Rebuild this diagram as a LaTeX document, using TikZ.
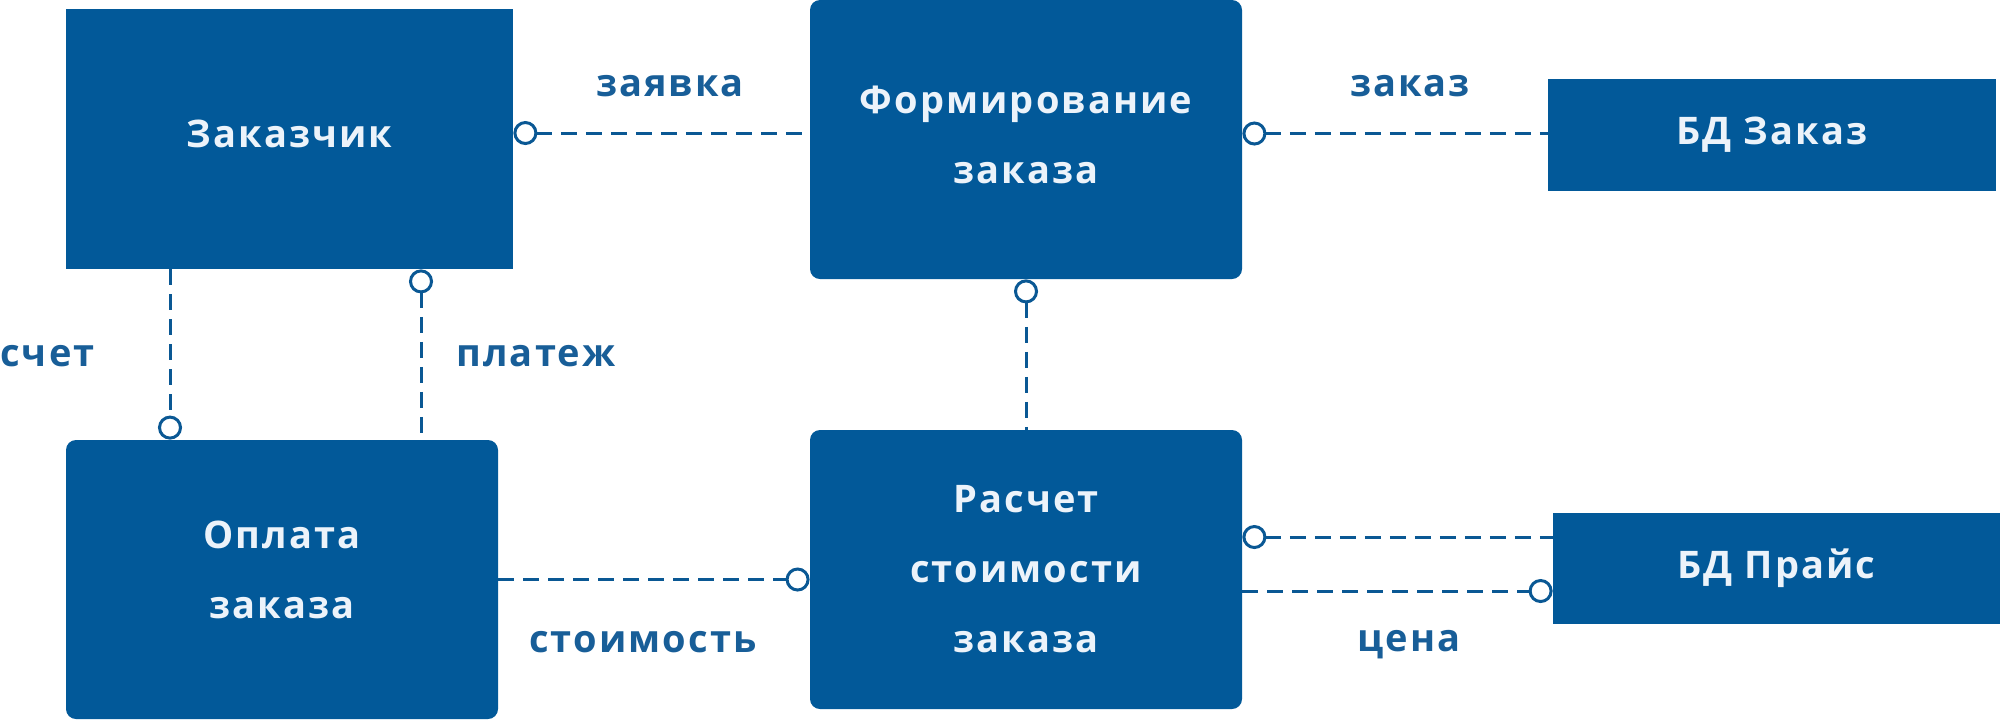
\documentclass[tikz,border=0pt]{standalone}
\usepackage{fontspec}
\newfontfamily\diafont{Open Sans}[LetterSpace=5.5]
\usetikzlibrary{arrows.meta}
\definecolor{boxblue}{RGB}{2,89,153}
\definecolor{linkblue}{RGB}{10,88,148}
\definecolor{labelblue}{RGB}{24,94,152}
\definecolor{boxtext}{RGB}{236,243,250}

\begin{document}
\begin{tikzpicture}[
		x=0.5pt, y=-0.5pt,
		ring/.tip={Circle[open, length=12pt, width=12pt]},
		box/.style={fill=boxblue, text=boxtext, inner sep=0pt, align=center,
			font=\diafont\bfseries\fontsize{19}{35}\selectfont},
		entity/.style={box, minimum width=223.5pt},
		proc/.style={box, rounded corners=5pt, minimum width=216pt, minimum height=139.5pt},
		link/.style={draw=linkblue, line width=1.5pt, dash pattern=on 8pt off 4.5pt},
		lbl/.style={text=labelblue, inner sep=0pt, anchor=base,
			font=\diafont\bfseries\fontsize{19}{23}\selectfont}
		]
		\useasboundingbox (0,0) rectangle (2000,720);
		
		% --------------------------------------------------
		% Boxes
		% --------------------------------------------------
		\node[entity, minimum height=130pt, text depth=5pt] (klient) at (289.5,139) {Заказчик};
		\node[proc, text depth=5pt] (form) at (1026,139.5) {Формирование\\заказа};
		\node[entity, minimum width=224pt, minimum height=56pt] (bdzakaz) at (1772,135) {БД Заказ};
		
		\node[proc, text depth=10pt] (oplata) at (282,579.5) {Оплата\\заказа};
		\node[proc] (raschet) at (1026,569.5) {Расчет\\стоимости\\заказа};
		\node[entity, minimum height=55.5pt] (bdprice) at (1776.5,568.5) {БД Прайс};
		
		% --------------------------------------------------
		% Links
		% --------------------------------------------------
		\draw[link, {ring}-] ([yshift=3pt]klient.east) -- ([yshift=3pt]klient.east -| form.west);
		\draw[link, {ring}-] ([yshift=3pt]form.east) -- ([yshift=3pt]form.east -| bdzakaz.west);
		\draw[link, {ring}-] (form.south) -- (raschet.north);
		
		\draw[link, -{ring}] ([xshift=-59.75pt]klient.south) -- ([xshift=-59.75pt]klient.south |- oplata.north);
		\draw[link, {ring}-] ([xshift=65.75pt]klient.south) -- ([xshift=65.75pt]klient.south |- oplata.north);
		
		\draw[link, -{ring}] (oplata.east) -- (oplata.east -| raschet.west);
		\draw[link, {ring}-] ([yshift=16.25pt]raschet.east) -- ([yshift=16.25pt]raschet.east -| bdprice.west);
		\draw[link, -{ring}] ([yshift=-10.75pt]raschet.east) -- ([yshift=-10.75pt]raschet.east -| bdprice.west);
		
		% --------------------------------------------------
		% Labels
		% --------------------------------------------------
		\node[lbl] (zayavka) at (670,96) {заявка};
		\node[lbl] (zakaz) at (1410,96) {заказ};
		\node[lbl, anchor=base west] (schet) at (0,366) {счет};
		\node[lbl] (platezh) at (536,366) {платеж};
		\node[lbl] (stoimost) at (643,652) {стоимость};
		\node[lbl] (cena) at (1409,651) {цена};
		
	\end{tikzpicture}
\end{document}
